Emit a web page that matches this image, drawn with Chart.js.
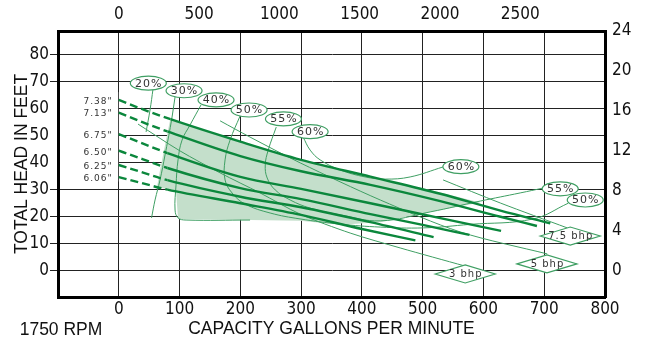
<!DOCTYPE html>
<html><head><meta charset="utf-8">
<script src="https://cdn.jsdelivr.net/npm/chart.js@4.4.0/dist/chart.umd.min.js"></script>
<style>html,body{margin:0;padding:0;background:#fff;overflow:hidden}canvas{display:block}</style>
</head><body>
<canvas id="c" width="651" height="343"></canvas>
<script>
// ---------- tick labels ----------
const GPM_TICKS = [-100, 0, 100, 200, 300, 400, 500, 600, 700, 800];
const FT_TICKS = [0, 10, 20, 30, 40, 50, 60, 70, 80];
const M_TICKS = [0, 4, 8, 12, 16, 20, 24];
const LPM_TICKS = [0, 500, 1000, 1500, 2000, 2500];
const HIDDEN_FT_TICKS = [40, 50, 60];

// ---------- impeller head curves (gpm, ft) ----------
const diameters = ['7.38"', '7.13"', '6.75"', '6.50"', '6.25"', '6.06"'];
const diameterLabelY = [62.5, 57.9, 50.1, 43.8, 38.5, 34.2];
const head738 = [[0,63.1],[40,59.6],[85,56],[200,47.7],[300,41],[414,34.8],[529,28.5],[628,22.3],[710,17.6]];
const head713 = [[0,58.4],[40,54.8],[80,51.5],[200,42.4],[300,36.8],[414,31.8],[529,25.8],[628,20],[688,16.6]];
const head675 = [[0,50.5],[40,47],[80,43.5],[200,34.7],[300,30.3],[414,25],[529,19.5],[629,14.8]];
const head650 = [[0,44.4],[40,41.2],[80,38],[200,30.6],[300,26.5],[414,21],[500,17],[577,13.3]];
const head625 = [[0,39.1],[40,36.3],[80,33.5],[200,27.4],[300,23.5],[414,18],[518,12.5]];
const head606 = [[0,34.6],[40,32.3],[80,30],[200,25],[300,20.7],[400,15.5],[488,11.3]];
const dashEnd = [85, 80, 80, 80, 80, 80];

// ---------- efficiency contours ----------
const eff20 = [[56.4,67.2],[51.4,59.4],[44.9,51.3]];
const eff30 = [[92.6,64.2],[86,54.6],[76.1,42.8],[67.9,33.6],[59.7,26.2],[53.9,19.6]];
const eff40 = [[135.4,61.3],[117.3,53.9],[104.1,48.3],[97.5,41.0],[94.2,31.7],[92.6,22.5],[97.5,19.6],[110.7,18.8],[216,18.8]];
const eff50 = [[199.6,57.2],[183.1,48.3],[174.9,41.0],[174.9,33.6],[186.4,28.8],[207.8,24.7],[249,21.4],[298.4,19.2],[364.2,17.3],[430.2,16.2],[501,15.9],[578.2,17.2],[681.9,19.2],[739.5,25]];
const eff55 = [[259.1,53.1],[245.9,44.6],[241,39.1],[244.2,34.3],[257.4,29.9],[282,26.2],[314.9,23.2],[364.2,20.7],[430.2,18.5],[512.4,21.8],[594.7,25.8],[660.5,28.8],[698.3,30.6]];
const eff60 = [[303.3,49.4],[314.9,44.6],[331.3,41.0],[364.2,37.3],[405.3,34.7],[438.3,33.9],[479.4,34.7],[533.7,38.4]];
const effLabels = ['20%','30%','40%','50%','55%','60%','60%','55%','50%'];
const effLabelX = [48.6, 107.4, 160, 214.4, 270.9, 314.8, 562.9, 726.3, 767.5];
const effLabelY = [69.3, 66.5, 63.1, 59.4, 56.1, 51.4, 38.5, 30.3, 26.2];

// ---------- brake horsepower lines ----------
const bhp3 = [[31.7,54.2],[100.8,44.3],[166.7,36.2],[232.5,28.8],[298.4,21.0],[380.7,14.0],[463,8.5],[570,1.8]];
const bhp5 = [[166.7,55.4],[216,49.4],[298.4,39.9],[430.2,26.2],[561.9,14.4],[705,6.3]];
const bhp75 = [[533.6,33.6],[627.6,25.1],[737.9,15.9]];
const bhpLabels = ['3 bhp', '5 bhp', '7.5 bhp'];
const bhpLabelX = [570, 704.5, 742.8];
const bhpLabelY = [-1.1, 2.6, 12.9];

// ---------- preferred operating region ----------
const region = [[84.4,55.7],[199.6,48.0],[298.4,41.0],[413.6,34.7],[512.4,29.9],[594.7,25.3],[512.4,21.8],[430.2,18.0],[364.2,17.1],[298.4,18.5],[216,18.8],[97.5,19.2],[94.2,29.5],[62.9,31.0],[67.9,37.3],[76.1,46.5],[84.4,55.7]];

const FONT = "'Liberation Sans Narrow','DejaVu Sans Condensed','Roboto Condensed',Roboto,sans-serif";
const TITLE_FONT = "'Liberation Sans', Arial, sans-serif";
const THICK = '#0b873c';
const THIN = '#3f9f63';
const pts = a => a.map(p => ({x: p[0], y: p[1]}));

const heads = [head738, head713, head675, head650, head625, head606];
const datasets = [];
heads.forEach((h, i) => datasets.push({
  label: diameters[i], data: pts(h), showLine: true, borderColor: THICK, borderWidth: 2.4,
  pointRadius: 0, cubicInterpolationMode: 'monotone', order: 10,
  segment: { borderDash: ctx => ctx.p1.parsed.x <= dashEnd[i] + 0.1 ? [8, 4] : undefined }
}));
[eff20, eff30, eff40, eff50, eff55, eff60].forEach((e, i) => datasets.push({
  label: 'eff' + i, data: pts(e), showLine: true, borderColor: THIN, borderWidth: 1,
  pointRadius: 0, tension: 0.4, order: 20
}));
[bhp3, bhp5, bhp75].forEach((b, i) => datasets.push({
  label: bhpLabels[i], data: pts(b), showLine: true, borderColor: THIN, borderWidth: 1,
  pointRadius: 0, tension: 0.3, order: 20
}));
datasets.push({
  label: 'region', data: pts(region), showLine: true, borderWidth: 0, borderColor: 'rgba(0,0,0,0)',
  backgroundColor: '#c4dfcb', fill: 'shape', pointRadius: 0, tension: 0, order: 100
});

const overlay = {
  id: 'overlay',
  beforeDatasetsDraw(chart) {
    const {ctx, scales: {x, y}} = chart;
    ctx.save();
    ctx.fillStyle = '#fff';
    const x0 = x.getPixelForValue(-100) + 2, x1 = x.getPixelForValue(0) - 0.6;
    const y0 = y.getPixelForValue(66), y1 = y.getPixelForValue(33);
    ctx.fillRect(x0, y0, x1 - x0, y1 - y0);
    ctx.restore();
  },
  afterDatasetsDraw(chart) {
    const {ctx, scales: {x, y}} = chart;
    ctx.save();
    if ('letterSpacing' in ctx) ctx.letterSpacing = '1px';
    ctx.fillStyle = '#333';
    ctx.font = "9px 'DejaVu Sans', sans-serif";
    ctx.textAlign = 'right'; ctx.textBaseline = 'middle';
    diameters.forEach((d, i) => ctx.fillText(d, x.getPixelForValue(-10), y.getPixelForValue(diameterLabelY[i])));
    ctx.font = "11px 'DejaVu Sans', sans-serif";
    ctx.textAlign = 'center';
    effLabels.forEach((t, i) => {
      const cx = x.getPixelForValue(effLabelX[i]), cy = y.getPixelForValue(effLabelY[i]);
      ctx.beginPath(); ctx.ellipse(cx, cy, 18, 7, 0, 0, Math.PI * 2);
      ctx.fillStyle = '#fff'; ctx.fill();
      ctx.strokeStyle = THIN; ctx.lineWidth = 1.2; ctx.stroke();
      ctx.fillStyle = '#333'; ctx.fillText(t, cx + 0.5, cy + 0.5);
    });
    ctx.font = "10px 'DejaVu Sans', sans-serif";
    bhpLabels.forEach((t, i) => {
      const cx = x.getPixelForValue(bhpLabelX[i]), cy = y.getPixelForValue(bhpLabelY[i]);
      ctx.beginPath();
      ctx.moveTo(cx - 30, cy); ctx.lineTo(cx, cy - 9); ctx.lineTo(cx + 30, cy); ctx.lineTo(cx, cy + 9); ctx.closePath();
      ctx.fillStyle = '#fff'; ctx.fill();
      ctx.strokeStyle = THIN; ctx.lineWidth = 1.2; ctx.stroke();
      ctx.fillStyle = '#333'; ctx.fillText(t, cx + 0.5, cy + 0.5);
    });
    ctx.restore();
  },
  afterDraw(chart) {
    const {ctx} = chart;
    ctx.save();
    ctx.fillStyle = '#111';
    ctx.font = '17.5px ' + TITLE_FONT;
    ctx.textAlign = 'center'; ctx.textBaseline = 'middle';
    ctx.fillText('1750 RPM', 61, 330);
    ctx.restore();
  }
};

const tickFont = {family: FONT, size: 17};
const titleFont = {family: TITLE_FONT, size: 17.5};
const plain = v => String(v);
new Chart(document.getElementById('c'), {
  type: 'scatter',
  data: {datasets},
  plugins: [overlay],
  options: {
    responsive: false, animation: false, devicePixelRatio: 1,
    layout: {padding: 0},
    plugins: {legend: {display: false}, tooltip: {enabled: false}},
    scales: {
      x: {
        type: 'linear', position: 'bottom', min: -100, max: 800,
        afterBuildTicks: s => { s.ticks = GPM_TICKS.map(v => ({value: v})); },
        afterFit: s => { s.height = 46; },
        ticks: {callback: v => v < 0 ? '' : String(v), font: tickFont, color: '#111', padding: 2, maxRotation: 0, autoSkip: false},
        grid: {color: '#222', lineWidth: 1, drawTicks: false},
        border: {color: '#000', width: 3, z: 1},
        title: {display: true, text: 'CAPACITY GALLONS PER MINUTE', font: titleFont, color: '#111', padding: {top: 0, bottom: 3}}
      },
      x2: {
        type: 'linear', position: 'top', min: -378.5, max: 3028,
        afterBuildTicks: s => { s.ticks = LPM_TICKS.map(v => ({value: v})); },
        afterFit: s => { s.height = 31; },
        ticks: {callback: plain, font: tickFont, color: '#111', padding: 6, maxRotation: 0, autoSkip: false},
        grid: {display: false, drawTicks: false},
        border: {color: '#000', width: 3, z: 1}
      },
      y: {
        type: 'linear', position: 'left', min: -9.6, max: 88.55,
        afterBuildTicks: s => { s.ticks = FT_TICKS.map(v => ({value: v})); },
        afterFit: s => { s.width = 58; },
        ticks: {callback: plain, font: tickFont, color: '#111', padding: 1, autoSkip: false},
        grid: {color: '#222', lineWidth: 1, tickLength: 8, drawTicks: true,
               tickColor: c => (c.tick && HIDDEN_FT_TICKS.includes(c.tick.value)) ? 'rgba(0,0,0,0)' : '#222'},
        border: {color: '#000', width: 3, z: 1},
        title: {display: true, text: 'TOTAL HEAD IN FEET', font: titleFont, color: '#111', padding: {top: 12, bottom: 0}}
      },
      y2: {
        type: 'linear', position: 'right', min: -2.6, max: 24,
        afterBuildTicks: s => { s.ticks = M_TICKS.map(v => ({value: v})); },
        afterFit: s => { s.width = 46; },
        ticks: {callback: plain, font: tickFont, color: '#111', padding: 7, autoSkip: false},
        grid: {display: false, drawTicks: false},
        border: {color: '#000', width: 3, z: 1}
      }
    }
  }
});
</script>
</body></html>
